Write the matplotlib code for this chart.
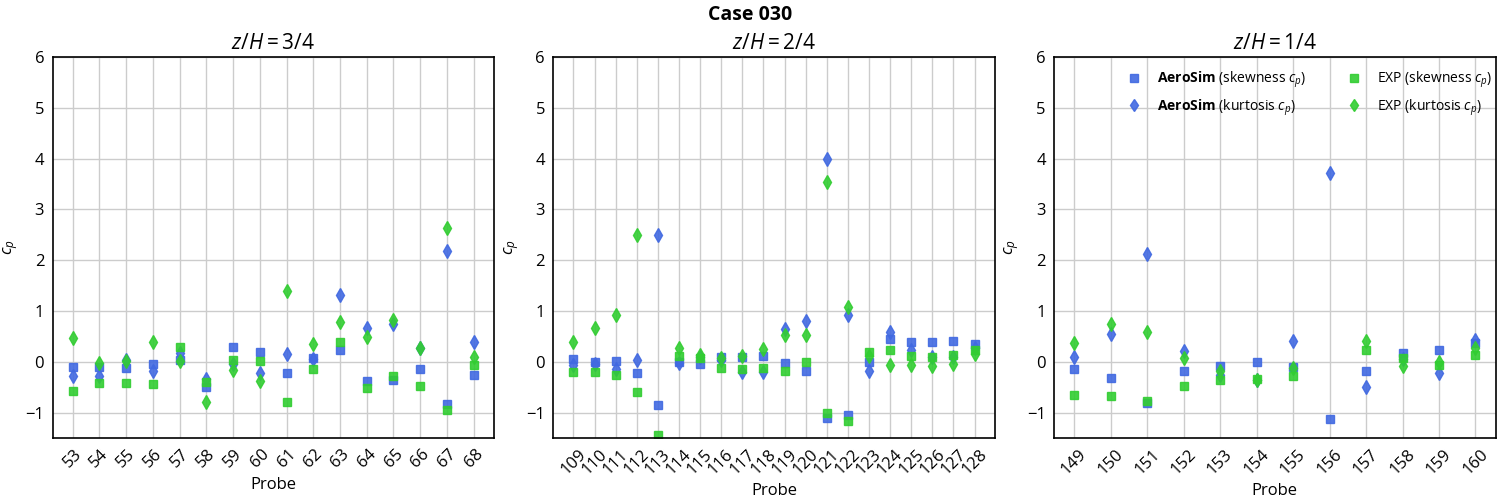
import matplotlib
matplotlib.use("Agg")
import matplotlib.pyplot as plt
import numpy as np

plt.rcParams['font.family'] = ['Open Sans', 'DejaVu Sans']
plt.rcParams['mathtext.fontset'] = 'custom'
plt.rcParams['mathtext.rm'] = 'Open Sans'
plt.rcParams['mathtext.it'] = 'Open Sans:italic'
plt.rcParams['mathtext.bf'] = 'Open Sans:bold'

nan = np.nan

# z/H = 3/4
probes_1 = [53, 54, 55, 56, 57, 58, 59, 60, 61, 62, 63, 64, 65, 66, 67, 68]
sim_skew_1 = [-0.10, -0.10, -0.12, -0.05, 0.03, -0.50, 0.30, 0.20, -0.23, 0.08, 0.24, -0.38, -0.35, -0.14, -0.83, -0.26]
sim_kurt_1 = [-0.27, -0.27, 0.03, -0.18, 0.17, -0.33, -0.05, -0.23, 0.15, 0.05, 1.31, 0.66, 0.75, 0.27, 2.18, 0.38]
exp_skew_1 = [-0.57, -0.41, -0.41, -0.43, 0.30, -0.40, 0.03, 0.01, -0.79, -0.14, 0.39, -0.51, -0.28, -0.47, -0.95, -0.06]
exp_kurt_1 = [0.47, -0.03, 0.01, 0.38, 0.02, -0.79, -0.16, -0.38, 1.39, 0.36, 0.79, 0.49, 0.83, 0.28, 2.63, 0.10]

# z/H = 2/4
probes_2 = list(range(109, 129))
sim_skew_2 = [0.06, 0.00, 0.02, -0.22, -0.85, 0.00, -0.04, 0.09, 0.10, 0.12, -0.02, -0.19, -1.10, -1.04, 0.00, 0.44, 0.39, 0.39, 0.40, 0.36]
sim_kurt_2 = [-0.07, -0.05, -0.15, 0.04, 2.50, -0.02, 0.10, 0.04, -0.20, -0.21, 0.64, 0.81, 4.00, 0.92, -0.18, 0.58, 0.23, 0.10, 0.10, 0.27]
exp_skew_2 = [-0.21, -0.21, -0.25, -0.59, -1.45, 0.12, 0.07, -0.12, -0.14, -0.12, -0.18, 0.00, -1.00, -1.17, 0.19, 0.24, 0.11, 0.09, 0.14, 0.24]
exp_kurt_2 = [0.39, 0.67, 0.93, 2.50, nan, 0.28, 0.13, 0.07, 0.12, 0.26, 0.53, 0.53, 3.53, 1.07, 0.11, -0.06, -0.06, -0.08, -0.04, 0.16]

# z/H = 1/4
probes_3 = list(range(149, 161))
sim_skew_3 = [-0.14, -0.32, -0.82, -0.18, -0.08, -0.01, -0.10, -1.12, -0.18, 0.18, 0.24, 0.37]
sim_kurt_3 = [0.10, 0.55, 2.13, 0.22, -0.25, -0.35, 0.41, 3.72, -0.49, 0.05, -0.22, 0.43]
exp_skew_3 = [-0.65, -0.67, -0.77, -0.47, -0.35, -0.33, -0.28, nan, 0.24, 0.08, -0.06, 0.14]
exp_kurt_3 = [0.37, 0.75, 0.59, 0.08, -0.19, -0.35, -0.12, nan, 0.40, -0.08, -0.01, 0.27]

titles = ['$z/H = 3/4$', '$z/H = 2/4$', '$z/H = 1/4$']
panels = [
    (probes_1, sim_skew_1, sim_kurt_1, exp_skew_1, exp_kurt_1),
    (probes_2, sim_skew_2, sim_kurt_2, exp_skew_2, exp_kurt_2),
    (probes_3, sim_skew_3, sim_kurt_3, exp_skew_3, exp_kurt_3),
]

blue = '#4169E1'
green = '#32CD32'

fig, axes = plt.subplots(1, 3, figsize=(15, 5), dpi=100)
fig.subplots_adjust(left=0.035, right=0.997, top=0.886, bottom=0.124, wspace=0.135)

for ax, title, (probes, ss, sk, es, ek) in zip(axes, titles, panels):
    x = np.arange(len(probes))
    ax.plot(x, ss, 's', color=blue, ms=6, alpha=0.9, ls='none',
            label=r'$\bf{AeroSim}$ (skewness $c_p$)')
    ax.plot(x, sk, 'd', color=blue, ms=7, alpha=0.9, ls='none',
            label=r'$\bf{AeroSim}$ (kurtosis $c_p$)')
    ax.plot(x, es, 's', color=green, ms=6, alpha=0.9, ls='none',
            label=r'EXP (skewness $c_p$)')
    ax.plot(x, ek, 'd', color=green, ms=7, alpha=0.9, ls='none',
            label=r'EXP (kurtosis $c_p$)')
    ax.set_xticks(x)
    ax.set_xticklabels([str(p) for p in probes], rotation=45, fontsize=12)
    ax.set_ylim(-1.5, 6)
    ax.set_yticks([-1, 0, 1, 2, 3, 4, 5, 6])
    ax.tick_params(axis='y', labelsize=12)
    ax.tick_params(length=0, pad=6)
    ax.grid(True, color='#cccccc', lw=1)
    ax.set_axisbelow(True)
    for sp in ax.spines.values():
        sp.set_color('black')
        sp.set_linewidth(1.2)
    ax.set_title(title, fontsize=15)
    ax.set_xlabel('Probe', fontsize=12)
    ax.set_ylabel('$c_p$', fontsize=12)

axes[2].legend(loc='upper right', ncol=2, frameon=False, fontsize=10,
               columnspacing=2.9, handlelength=1.2, handletextpad=1.0,
               markerscale=0.85, bbox_to_anchor=(1.02, 1.0))

fig.suptitle('Case 030', fontsize=14, fontweight='bold', y=0.99)

fig.savefig('out.png')
